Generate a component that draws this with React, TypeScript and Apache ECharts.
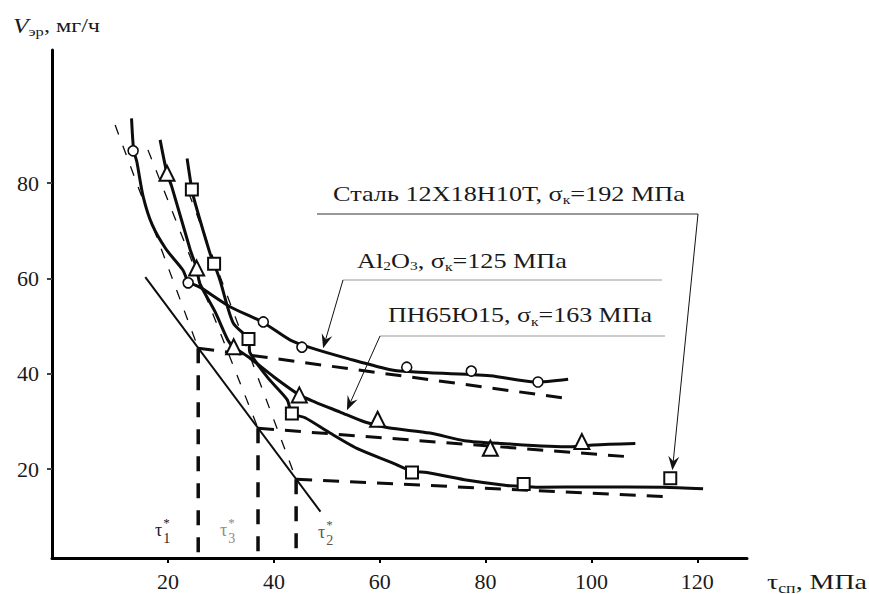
import React, { useEffect, useRef } from "react";
import * as echarts from "echarts";

// Measured points (markers) for the three materials
const circleX = [13.4, 23.8, 38.0, 45.3, 65.1, 77.3, 89.9];
const circleY = [86.8, 59.1, 50.9, 45.6, 41.4, 40.6, 38.3];
const triangleX = [19.8, 25.4, 32.4, 44.8, 59.6, 80.9, 98.2];
const triangleY = [82.1, 62.2, 45.7, 35.6, 30.5, 24.4, 25.8];
const squareX = [24.5, 28.7, 35.2, 43.4, 66.1, 87.2, 114.9];
const squareY = [78.7, 63.1, 47.3, 31.7, 19.3, 16.9, 18.1];

// Hand-traced smooth curves through the points
const circleCurve = [
  [13.1, 93.6], [13.5, 87.0], [14.1, 84.5], [15.3, 77.2], [17.0, 71.3], [19.6, 66.2],
  [22.8, 61.8], [23.8, 59.4], [26.0, 58.2], [31.7, 54.1], [37.8, 50.9], [43.1, 47.1],
  [47.2, 45.4], [54.0, 43.2], [62.3, 40.8], [66.7, 40.4], [80.9, 39.6], [89.4, 38.3], [95.6, 38.9],
];
const triangleCurve = [
  [18.5, 89.1], [19.8, 82.1], [20.7, 79.3], [24.2, 66.0], [25.4, 62.2], [26.0, 59.0],
  [28.9, 53.0], [31.3, 47.1], [32.3, 45.7], [35.5, 43.3], [40.2, 39.2], [44.8, 35.6],
  [47.8, 34.1], [52.5, 32.0], [57.2, 29.9], [61.6, 28.7], [69.5, 27.6], [76.0, 26.0],
  [83.1, 25.4], [96.0, 24.7], [100.4, 25.1], [108.3, 25.4],
];
const squareCurve = [
  [23.6, 85.2], [24.5, 78.7], [25.1, 75.9], [27.9, 65.4], [28.7, 63.1], [29.8, 59.7],
  [32.3, 50.7], [35.2, 47.3], [35.5, 44.4], [39.0, 39.0], [42.5, 34.6], [43.4, 31.7],
  [45.9, 30.8], [50.6, 27.6], [56.0, 24.2], [62.5, 21.3], [66.1, 19.6], [68.9, 19.3],
  [76.0, 17.8], [84.0, 16.6], [87.2, 16.4], [90.3, 16.2], [100.0, 16.3], [113.6, 16.2], [121.1, 15.9],
];

// Knee points τ1*, τ3*, τ2* and the straight fits meeting there
const kneeX = [25.7, 37.0, 44.2];
const kneeY = [45.4, 28.6, 17.9];
const steepStart = [[10.0, 92.2], [16.2, 87.0], [23.9, 78.0]];
const flatEnd = [[94.5, 35.0], [107.3, 22.6], [114.9, 14.2]];
const diagonal = [[15.7, 60.3], [48.8, 11.1]];

const xTicks = [20, 40, 60, 80, 100, 120];
const yTicks = [20, 40, 60, 80];

const X_MIN = -1.93;
const X_MAX = 129.4;
const Y_MIN = 1.38;
const Y_MAX = 107.95;

const INK = "#0d0d0d";
const SERIF = "Liberation Serif";

type Seg = { t: string; size: number; dy?: number; italic?: boolean };

let measureCtx: CanvasRenderingContext2D | null = null;
function measure(text: string, font: string): number {
  if (!measureCtx) measureCtx = document.createElement("canvas").getContext("2d");
  measureCtx!.font = font;
  return measureCtx!.measureText(text).width;
}

const fontOf = (size: number, italic?: boolean) => `${italic ? "italic " : ""}${size}px ${SERIF}`;

function txt(text: string, size: number, color: string, italic?: boolean) {
  return {
    text,
    fontSize: size,
    fontFamily: SERIF,
    fontStyle: italic ? "italic" : "normal",
    fill: color,
    textAlign: "left",
    align: "left",
    textVerticalAlign: "middle",
    verticalAlign: "middle",
  };
}

function textRun(segs: Seg[], x: number, y: number, width: number | null, color = "#1a1a1a") {
  let off = 0;
  const children: any[] = [];
  for (const s of segs) {
    children.push({ type: "text", x: off, y: s.dy || 0, style: txt(s.t, s.size, color, s.italic) });
    off += measure(s.t, fontOf(s.size, s.italic));
  }
  return { type: "group", x, y, scaleX: width ? width / off : 1, z: 20, children };
}

function tauLabel(x: number, y: number, idx: string, color: string) {
  const w = measure("τ", fontOf(18));
  return {
    type: "group", x, y, z: 20,
    children: [
      { type: "text", x: 0, y: 0, style: txt("τ", 18, color) },
      { type: "text", x: w + 1, y: 8, style: txt(idx, 14, color) },
      { type: "text", x: w + 1, y: -8, style: txt("*", 13, color) },
    ],
  };
}

function arrow(from: number[], tip: number[]) {
  const dx = tip[0] - from[0];
  const dy = tip[1] - from[1];
  const L = Math.hypot(dx, dy);
  const ux = dx / L;
  const uy = dy / L;
  const len = 14, half = 5.5, notch = 9;
  const bx = tip[0] - ux * len;
  const by = tip[1] - uy * len;
  const left = [bx - uy * half, by + ux * half];
  const right = [bx + uy * half, by - ux * half];
  const np = [tip[0] - ux * notch, tip[1] - uy * notch];
  return [
    { type: "line", z: 20, shape: { x1: from[0], y1: from[1], x2: np[0], y2: np[1] }, style: { stroke: "#111", lineWidth: 1 } },
    { type: "polygon", z: 20, shape: { points: [tip, left, np, right] }, style: { fill: "#111" } },
  ];
}

const lineSeries = (data: number[][], width: number, type: any, smooth: number | boolean = false) => ({
  type: "line",
  data,
  symbol: "none",
  smooth,
  silent: true,
  z: 2,
  lineStyle: { color: INK, width, type, cap: "butt" },
});

const markerSeries = (xs: number[], ys: number[], symbol: string, size: number, bw: number) => ({
  type: "scatter",
  data: xs.map((x, i) => [x, ys[i]]),
  symbol,
  symbolSize: size,
  silent: true,
  z: 5,
  itemStyle: { color: "#fff", borderColor: INK, borderWidth: bw, opacity: 1 },
});

export default function App() {
  const ref = useRef<HTMLDivElement>(null);

  useEffect(() => {
    if (!ref.current) return;
    const chart = echarts.init(ref.current, null, { renderer: "svg" });

    const series: any[] = [
      lineSeries(circleCurve, 3, "solid", 0.25),
      lineSeries(triangleCurve, 3, "solid", 0.25),
      lineSeries(squareCurve, 3, "solid", 0.25),
      lineSeries(diagonal, 2, "solid"),
    ];
    kneeX.forEach((kx, i) => {
      const ky = kneeY[i];
      series.push(lineSeries([steepStart[i], [kx, ky]], 1.3, [10, 12]));
      series.push(lineSeries([[kx, ky], flatEnd[i]], 3, [16, 11]));
      series.push(lineSeries([[kx, ky], [kx, Y_MIN]], 3.5, [15, 12]));
    });
    series.push(markerSeries(circleX, circleY, "circle", 10, 1.6));
    series.push(markerSeries(triangleX, triangleY, "triangle", 15, 2));
    series.push(markerSeries(squareX, squareY, "rect", 12, 2));

    const axisCommon = {
      type: "value",
      splitLine: { show: false },
      axisLine: { show: true, onZero: false, lineStyle: { color: "#000", width: 3 } },
    };

    chart.setOption({
      animation: false,
      backgroundColor: "#fff",
      grid: { left: 52, top: 50, width: 695, height: 508, containLabel: false },
      xAxis: {
        ...axisCommon,
        min: X_MIN,
        max: X_MAX,
        axisTick: { show: true, customValues: xTicks, length: 5, lineStyle: { color: "#000", width: 2 } },
        axisLabel: {
          customValues: xTicks,
          fontFamily: SERIF,
          fontSize: 22,
          color: "#1a1a1a",
          margin: 12,
        },
      },
      yAxis: {
        ...axisCommon,
        min: Y_MIN,
        max: Y_MAX,
        axisTick: { show: true, customValues: yTicks, length: 5, lineStyle: { color: "#444", width: 2 } },
        axisLabel: {
          customValues: yTicks,
          fontFamily: SERIF,
          fontSize: 22,
          color: "#1a1a1a",
          margin: 13,
        },
      },
      series,
    });

    const px = (p: number[]) => chart.convertToPixel({ gridIndex: 0 }, p) as number[];

    const graphic: any[] = [
      // axis titles
      textRun([{ t: "V", size: 20, italic: true }, { t: "эр", size: 13, dy: 6 }, { t: ", мг/ч", size: 19 }], 13, 26, 87),
      textRun([{ t: "τ", size: 22 }, { t: "сп", size: 14, dy: 6 }, { t: ", МПа", size: 22 }], 767, 582, 100),
      // material captions
      textRun([{ t: "Сталь 12Х18Н10Т, σ", size: 22 }, { t: "к", size: 13, dy: 6 }, { t: "=192 МПа", size: 22 }], 333, 193, 352),
      textRun(
        [
          { t: "Al", size: 22 }, { t: "2", size: 13, dy: 5 }, { t: "O", size: 22 }, { t: "3", size: 13, dy: 5 },
          { t: ", σ", size: 22 }, { t: "к", size: 13, dy: 6 }, { t: "=125 МПа", size: 22 },
        ],
        357, 260, 210,
      ),
      textRun([{ t: "ПН65Ю15, σ", size: 22 }, { t: "к", size: 13, dy: 6 }, { t: "=163 МПа", size: 22 }], 388, 315, 264),
      // caption underlines
      { type: "line", z: 20, shape: { x1: 317, y1: 214, x2: 698, y2: 214 }, style: { stroke: "#333", lineWidth: 1.2 } },
      { type: "line", z: 20, shape: { x1: 343, y1: 280, x2: 662, y2: 280 }, style: { stroke: "#999", lineWidth: 1 } },
      { type: "line", z: 20, shape: { x1: 380, y1: 336, x2: 665, y2: 336 }, style: { stroke: "#999", lineWidth: 1 } },
      ...arrow([343, 280], px([49.3, 45.4])),
      ...arrow([380, 336], px([53.8, 32.4])),
      ...arrow([698, 214], px([115.3, 19.8])),
      // τ* labels
      tauLabel(155, 530, "1", "#1a1a1a"),
      tauLabel(220, 530, "3", "#8a8a8a"),
      tauLabel(318, 532, "2", "#555"),
    ];

    chart.setOption({ graphic });

    return () => chart.dispose();
  }, []);

  return (
    <div
      ref={ref}
      style={{ position: "fixed", left: 0, top: 0, width: 869, height: 594, background: "#fff" }}
    />
  );
}
